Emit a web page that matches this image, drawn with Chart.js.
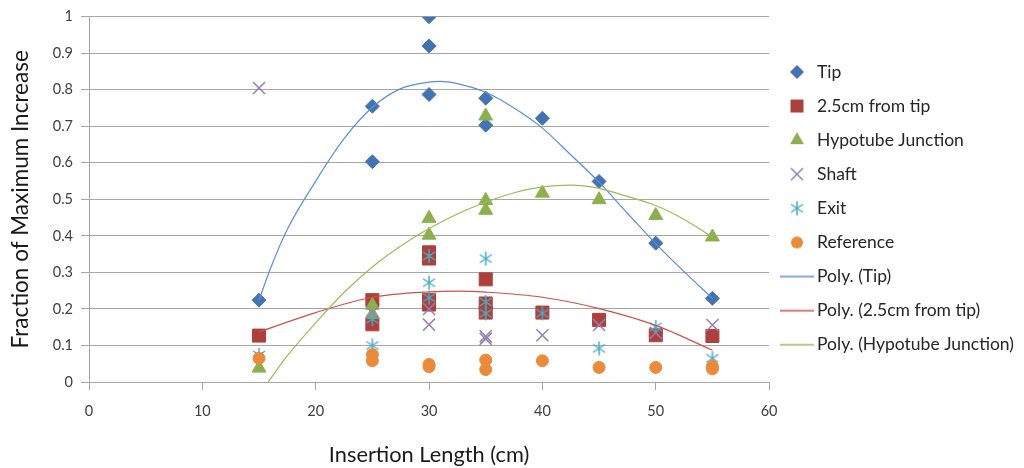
<!DOCTYPE html>
<html>
<head>
<meta charset="utf-8">
<title>Fraction of Maximum Increase vs Insertion Length</title>
<script src="https://cdn.jsdelivr.net/npm/chart.js@4/dist/chart.umd.min.js"></script>
<style>
  html, body { margin: 0; padding: 0; background: #ffffff; }
  #wrap { width: 1024px; height: 468px; }
</style>
</head>
<body>
<div id="wrap"><canvas id="chart" width="1024" height="468"></canvas></div>
<script>
// ---- measured points (x = insertion length in cm) ----
const tipX = [15, 25, 25, 30, 30, 30, 35, 35, 40, 45, 50, 55];
const tipY = [0.224, 0.755, 0.603, 1.0, 0.92, 0.787, 0.777, 0.703, 0.722, 0.549, 0.38, 0.229];

const from25X = [15, 25, 25, 30, 30, 30, 30, 35, 35, 35, 40, 45, 50, 55];
const from25Y = [0.127, 0.224, 0.158, 0.355, 0.338, 0.225, 0.212, 0.281, 0.215, 0.19, 0.19, 0.17, 0.128, 0.126];

const hypoX = [15, 25, 25, 30, 30, 35, 35, 35, 40, 45, 50, 55];
const hypoY = [0.038, 0.21, 0.185, 0.448, 0.402, 0.728, 0.497, 0.47, 0.517, 0.499, 0.456, 0.397];

const shaftX = [15, 25, 30, 30, 35, 35, 40, 45, 50, 55];
const shaftY = [0.805, 0.19, 0.2, 0.157, 0.125, 0.118, 0.128, 0.156, 0.135, 0.156];

const exitX = [15, 25, 25, 30, 30, 30, 35, 35, 35, 40, 45, 50, 55];
const exitY = [0.074, 0.172, 0.1, 0.345, 0.272, 0.231, 0.338, 0.219, 0.188, 0.188, 0.092, 0.151, 0.065];

const refX = [15, 25, 25, 30, 30, 35, 35, 40, 45, 50, 55, 55];
const refY = [0.065, 0.075, 0.058, 0.048, 0.042, 0.06, 0.034, 0.058, 0.04, 0.04, 0.043, 0.036];

// ---- polynomial trend curves, sampled ----
const tipFitX = [15, 16, 17.5, 20, 22.5, 25, 27.5, 30, 31, 32.5, 35, 37.5, 40, 42.5, 45, 47.5, 50, 52.5, 55];
const tipFitY = [0.224, 0.31, 0.418, 0.55, 0.666, 0.752, 0.803, 0.821, 0.823, 0.817, 0.793, 0.75, 0.695, 0.622, 0.547, 0.462, 0.379, 0.302, 0.229];

const from25FitX = [15, 20, 25, 30, 32.5, 35, 40, 45, 50, 55];
const from25FitY = [0.137, 0.19, 0.232, 0.247, 0.249, 0.246, 0.232, 0.201, 0.155, 0.087];

const hypoFitX = [15.8, 17.5, 20, 22.5, 25, 27.5, 30, 32.5, 35, 37.5, 40, 42.5, 45, 47.5, 50, 52.5, 55];
const hypoFitY = [0, 0.072, 0.162, 0.245, 0.315, 0.372, 0.42, 0.46, 0.492, 0.518, 0.534, 0.539, 0.53, 0.508, 0.483, 0.445, 0.397];

// ---- axis ----
const xTicks = [0, 10, 20, 30, 40, 50, 60];
const yTicks = [0, 0.1, 0.2, 0.3, 0.4, 0.5, 0.6, 0.7, 0.8, 0.9, 1];

const seriesNames = ['Tip', '2.5cm from tip', 'Hypotube Junction', 'Shaft', 'Exit', 'Reference',
    'Poly. (Tip)', 'Poly. (2.5cm from tip)', 'Poly. (Hypotube Junction)'];

const BLUE = '#4473B2';
const RED = '#AC403D';
const GREEN = '#8DAF4E';
const PURPLE = '#9580B4';
const CYAN = '#4BACC6';
const ORANGE = '#EA8A3B';

const FONT = 'Lato, "Open Sans", sans-serif';

function pts(xs, ys) {
    return xs.map((x, i) => ({ x: x, y: ys[i] }));
}

// ====================================================
// Marker drawing (used for the legend icons and the asterisk)
// ====================================================
function drawShape(ctx, shape, cx, cy, color) {
    ctx.fillStyle = color;
    ctx.strokeStyle = color;
    ctx.beginPath();
    if (shape === 'diamond') {
        ctx.moveTo(cx, cy - 7); ctx.lineTo(cx + 7, cy); ctx.lineTo(cx, cy + 7); ctx.lineTo(cx - 7, cy);
        ctx.closePath(); ctx.fill();
    } else if (shape === 'square') {
        ctx.rect(cx - 6.5, cy - 6.5, 13, 13); ctx.fill();
    } else if (shape === 'triangle') {
        const r = 8;
        ctx.moveTo(cx, cy - r);
        ctx.lineTo(cx + r * 0.866, cy + r / 2);
        ctx.lineTo(cx - r * 0.866, cy + r / 2);
        ctx.closePath(); ctx.fill();
    } else if (shape === 'x') {
        ctx.lineWidth = 1.5;
        ctx.moveTo(cx - 6, cy - 6); ctx.lineTo(cx + 6, cy + 6);
        ctx.moveTo(cx + 6, cy - 6); ctx.lineTo(cx - 6, cy + 6);
        ctx.stroke();
    } else if (shape === 'asterisk') {
        ctx.lineWidth = 1.5;
        ctx.moveTo(cx, cy - 7); ctx.lineTo(cx, cy + 7);
        ctx.moveTo(cx - 6, cy - 4); ctx.lineTo(cx + 6, cy + 4);
        ctx.moveTo(cx + 6, cy - 4); ctx.lineTo(cx - 6, cy + 4);
        ctx.stroke();
    } else if (shape === 'circle') {
        ctx.arc(cx, cy, 6, 0, Math.PI * 2); ctx.fill();
    } else if (shape === 'line') {
        ctx.lineWidth = 1.5;
        ctx.moveTo(0, cy); ctx.lineTo(cx * 2, cy);
        ctx.stroke();
    }
}

function makeIcon(shape, color, w, h) {
    const c = document.createElement('canvas');
    c.width = w;
    c.height = h;
    drawShape(c.getContext('2d'), shape, w / 2, h / 2, color);
    return c;
}

const asteriskPoint = makeIcon('asterisk', CYAN, 16, 16);

const legendIcons = [
    makeIcon('diamond', BLUE, 34, 18),
    makeIcon('square', RED, 34, 18),
    makeIcon('triangle', GREEN, 34, 18),
    makeIcon('x', PURPLE, 34, 18),
    makeIcon('asterisk', CYAN, 34, 18),
    makeIcon('circle', ORANGE, 34, 18),
    makeIcon('line', '#5B8FD0', 34, 18),
    makeIcon('line', '#D0504D', 34, 18),
    makeIcon('line', '#9BBB59', 34, 18)
];

function markerSet(i, data, color, style, radius) {
    return {
        label: seriesNames[i],
        data: data,
        showLine: false,
        pointStyle: style,
        pointRadius: radius,
        backgroundColor: color,
        borderColor: color,
        borderWidth: style === 'crossRot' ? 1.5 : 1,
        order: 20 - i
    };
}

function trendSet(i, data, color) {
    return {
        label: seriesNames[i],
        data: data,
        showLine: true,
        pointRadius: 0,
        borderColor: color,
        backgroundColor: color,
        borderWidth: 1.2,
        cubicInterpolationMode: 'monotone',
        fill: false,
        order: 20 - i
    };
}

const datasets = [
    markerSet(0, pts(tipX, tipY), BLUE, 'rectRot', 7),
    markerSet(1, pts(from25X, from25Y), RED, 'rect', 9.2),
    markerSet(2, pts(hypoX, hypoY), GREEN, 'triangle', 8),
    markerSet(3, pts(shaftX, shaftY), PURPLE, 'crossRot', 8.5),
    markerSet(4, pts(exitX, exitY), CYAN, asteriskPoint, 7),
    markerSet(5, pts(refX, refY), ORANGE, 'circle', 6),
    trendSet(6, pts(tipFitX, tipFitY), '#5B8FD0'),
    trendSet(7, pts(from25FitX, from25FitY), '#D0504D'),
    trendSet(8, pts(hypoFitX, hypoFitY), '#9BBB59')
];

const GRID = '#A6A6A6';

new Chart(document.getElementById('chart'), {
    type: 'scatter',
    data: { datasets: datasets },
    options: {
        responsive: false,
        animation: false,
        events: [],
        layout: { padding: { top: 16, left: 0, right: 0, bottom: 0 } },
        plugins: {
            tooltip: { enabled: false },
            legend: {
                position: 'right',
                align: 'start',
                maxWidth: 255,
                title: {
                    display: true,
                    text: ' ',
                    font: { size: 10, lineHeight: 1 },
                    padding: { top: 20.6, bottom: 0 }
                },
                labels: {
                    usePointStyle: true,
                    pointStyleWidth: 22.6,
                    padding: 16.6,
                    color: '#262626',
                    font: { family: FONT, size: 17.5 },
                    sort: (a, b) => a.datasetIndex - b.datasetIndex,
                    generateLabels: (chart) => {
                        const items = Chart.defaults.plugins.legend.labels.generateLabels(chart);
                        items.forEach(it => { it.pointStyle = legendIcons[it.datasetIndex]; });
                        return items;
                    }
                }
            }
        },
        scales: {
            x: {
                type: 'linear',
                min: 0,
                max: 60,
                afterFit: (s) => { s.height = 86; },
                afterBuildTicks: (s) => { s.ticks = xTicks.map(v => ({ value: v })); },
                grid: { display: true, drawOnChartArea: false, drawTicks: true, tickLength: 8, color: GRID },
                border: { display: true, color: GRID },
                ticks: { padding: 13, color: '#404040', font: { family: FONT, size: 14.5 } },
                title: {
                    display: true,
                    text: 'Insertion Length (cm)',
                    color: '#1A1A1A',
                    font: { family: FONT, size: 21.8 },
                    padding: { top: 1, bottom: 0 }
                }
            },
            y: {
                type: 'linear',
                min: 0,
                max: 1,
                afterFit: (s) => { s.width = 89; },
                afterBuildTicks: (s) => { s.ticks = yTicks.map(v => ({ value: v })); },
                grid: { display: true, drawTicks: true, tickLength: 8, color: GRID },
                border: { display: true, color: GRID },
                ticks: {
                    padding: 8,
                    color: '#404040',
                    font: { family: FONT, size: 14.5 },
                    callback: (v) => String(Math.round(v * 10) / 10)
                },
                title: {
                    display: true,
                    text: 'Fraction of Maximum Increase',
                    color: '#1A1A1A',
                    font: { family: FONT, size: 22.5 },
                    padding: { top: 7, bottom: 0 }
                }
            }
        }
    }
});
</script>
</body>
</html>
